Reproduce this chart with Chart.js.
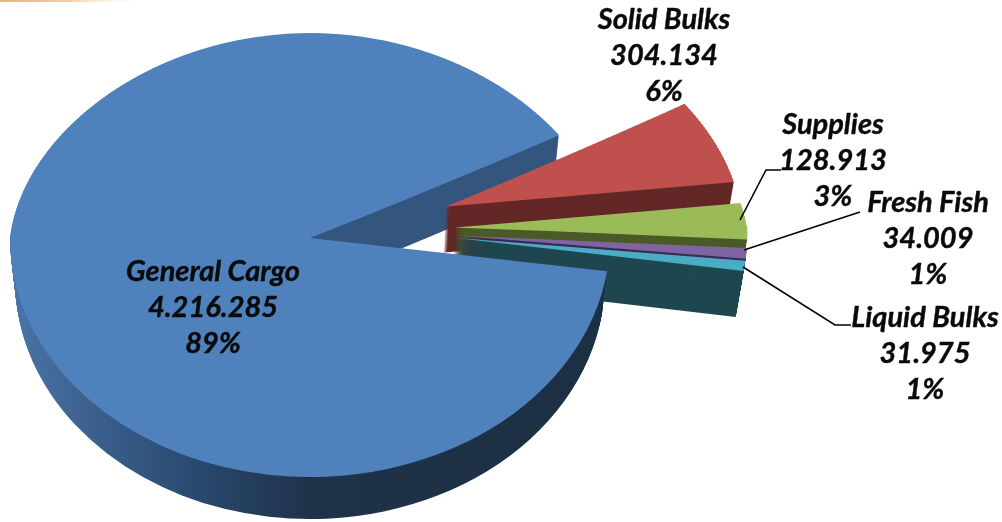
<!DOCTYPE html>
<html><head><meta charset="utf-8">
<style>html,body{margin:0;padding:0;background:#fff}canvas{display:block}</style>
<script src="https://cdn.jsdelivr.net/npm/chart.js@4"></script></head>
<body><canvas id="c" width="1002" height="522"></canvas>
<script>
const categories = ['General Cargo','Solid Bulks','Supplies','Fresh Fish','Liquid Bulks'];
const tonnage = [4216285,304134,128913,34009,31975];
const valueLabels = ['4.216.285','304.134','128.913','34.009','31.975'];
const percentLabels = ['89%','6%','3%','1%','1%'];
const topColors = ['#4f81bd','#c0504d','#9bbb59','#8064a2','#4bacc6'];
const sideColors = ['#34567f','#632826','#4a5a28','#3a2a55','#1f474f'];
const explode = [0,145,145,145,145];
const lift = [0,0,-7,-11,-14];
const depths = [42,46,46,46,46];
const sliceWidth = [1,0.993,0.975,0.975,0.975];

const tiltFar = 0.683, tiltNear = 0.797, farShrink = 0.08, wallShrink = 0.0004, stripRows = 3;
const labelPos = [[213,272],[664,20],[833,125],[928,203],[925,318]];
const leaders = [null,null,[[740,220],[766,170],[781,170]],[[744,250],[860,212]],[[743,267],[835,325],[851,325]]];
const lineGap = 36;

function withFill(el, color, fn){const o=el.options;el.options=Object.assign({},o,{backgroundColor:color,borderColor:color});fn();el.options=o;}
// draw one slice flattened onto the tilted plane, row band by row band, so far rows narrow toward the centre
function face(chart,el,i,d,color){
  const ctx=chart.ctx, y0=Math.round(el.y+d+lift[i]);
  const mid=(el.startAngle+el.endAngle)/2, dx=Math.cos(mid)*explode[i], dy=Math.sin(mid)*explode[i];
  const far=el.outerRadius*tiltFar;
  const band=(top,h,k,g)=>{
    ctx.save();
    ctx.beginPath();ctx.rect(0,top,chart.width,h);ctx.clip();
    const s=g*(1-d*wallShrink);
    ctx.translate(el.x,y0);ctx.scale(s,k);ctx.translate(dx,dy);
    ctx.scale(sliceWidth[i],1);ctx.translate(-el.x,-el.y);
    if(color) withFill(el,color,()=>el.draw(ctx)); else el.draw(ctx);
    ctx.restore();
  };
  const high=Math.max(0,y0-far-stripRows);
  for(let top=y0-stripRows;top>=high-stripRows;top-=stripRows){
    band(top,stripRows,tiltFar,1-farShrink*(y0-top-stripRows/2)/far);
  }
  band(y0,chart.height-y0,tiltNear,1);
}
const pie3d = {
  id:'pie3d',
  beforeDatasetDraw(chart){
    const ctx=chart.ctx, els=chart.getDatasetMeta(0).data, g=els[0];
    const cx=g.x, cy=g.y, r=g.outerRadius;
    const wall=ctx.createLinearGradient(cx-r,0,cx+r,0);
    wall.addColorStop(0,'#4a74a8');wall.addColorStop(0.12,'#3d6290');wall.addColorStop(0.3,'#2a4a70');wall.addColorStop(0.5,'#1f3249');wall.addColorStop(1,'#1c3044');
    const ax=cx-10, aw=r, ah=cy+32;
    // cut face of the big slice, behind everything
    ctx.save();ctx.beginPath();ctx.rect(ax,0,aw,ah);ctx.clip();
    for(let d=depths[0]+6;d>0;d--) face(chart,g,0,d,sideColors[0]);
    ctx.restore();
    // exploded slices
    for(let i=1;i<els.length;i++){
      for(let d=depths[i];d>0;d--) face(chart,els[i],i,d,sideColors[i]);
      face(chart,els[i],i,0);
    }
    // outer wall and top of the big slice, in front
    ctx.save();ctx.beginPath();ctx.rect(0,0,chart.width,chart.height);ctx.rect(ax,0,aw,ah);ctx.clip('evenodd');
    for(let d=depths[0];d>0;d--) face(chart,g,0,d,wall);
    ctx.restore();
    face(chart,g,0,0);
    return false;
  },
  beforeDraw(chart){
    const ctx=chart.ctx, b=ctx.createLinearGradient(0,0,150,0);
    b.addColorStop(0,'#e9b27a');b.addColorStop(0.45,'#f3cfa0');b.addColorStop(1,'rgba(255,255,255,0)');
    ctx.save();ctx.fillStyle=b;ctx.fillRect(0,0,150,2);ctx.restore();
  },
  afterDraw(chart){
    const ctx=chart.ctx;
    ctx.save();
    ctx.strokeStyle='#000';ctx.lineWidth=1.6;
    leaders.forEach(l=>{if(!l)return;ctx.beginPath();l.forEach((p,j)=>j?ctx.lineTo(p[0],p[1]):ctx.moveTo(p[0],p[1]));ctx.stroke();});
    ctx.fillStyle='#0a0a0a';ctx.strokeStyle='#0a0a0a';ctx.lineWidth=0.4;ctx.textAlign='center';ctx.textBaseline='middle';
    ctx.font='italic bold 29px Lato';
    categories.forEach((c,i)=>{
      const [x,y]=labelPos[i];
      [c,valueLabels[i],percentLabels[i]].forEach((t,j)=>{ctx.fillText(t,x,y+j*lineGap);ctx.strokeText(t,x,y+j*lineGap);});
    });
    ctx.restore();
  }
};
new Chart(document.getElementById('c'),{
  type:'pie',
  data:{labels:categories,datasets:[{data:tonnage,backgroundColor:topColors,borderWidth:0,clip:false}]},
  options:{
    responsive:false,animation:false,rotation:98,radius:300,
    layout:{padding:{left:0,right:382,top:0,bottom:46}},
    plugins:{legend:{display:false},tooltip:{enabled:false}}
  },
  plugins:[pie3d]
});
</script></body></html>
